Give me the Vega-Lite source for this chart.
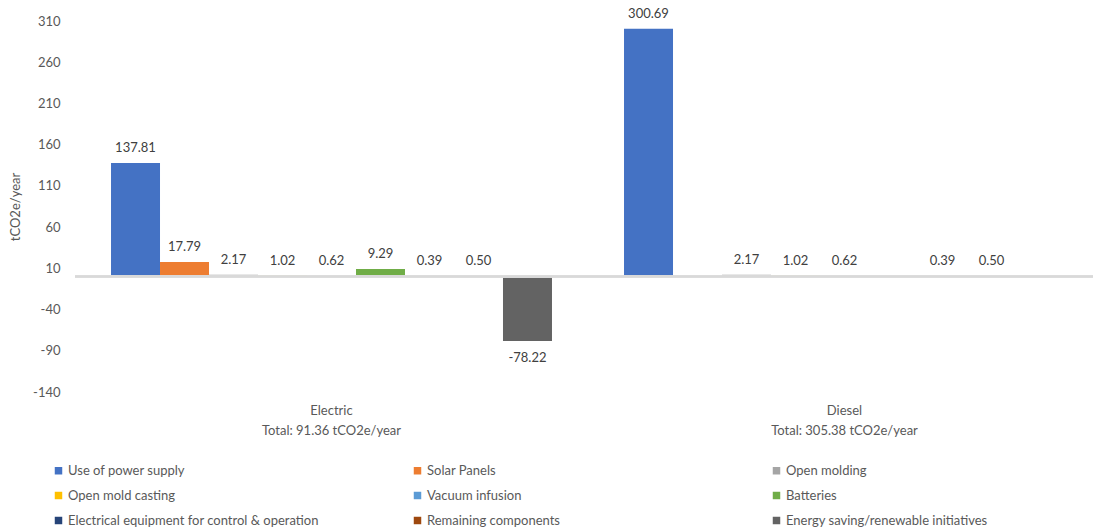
{
  "$schema": "https://vega.github.io/schema/vega-lite/v6.json",
  "autosize": "none",
  "width": 1018,
  "height": 371,
  "padding": {"left": 75, "top": 21, "right": 0, "bottom": 138},
  "background": "white",
  "config": {
    "view": {"stroke": null},
    "font": "Lato",
    "text": {"font": "Lato"},
    "locale": {
      "number": {"decimal": ".", "thousands": ",", "grouping": [3], "currency": ["$", ""], "minus": "-"}
    }
  },
  "data": {
    "values": [
      {"group": "Electric", "category": "Use of power supply", "value": 137.81},
      {"group": "Electric", "category": "Solar Panels", "value": 17.79},
      {"group": "Electric", "category": "Open molding", "value": 2.17},
      {"group": "Electric", "category": "Open mold casting", "value": 1.02},
      {"group": "Electric", "category": "Vacuum infusion", "value": 0.62},
      {"group": "Electric", "category": "Batteries", "value": 9.29},
      {"group": "Electric", "category": "Electrical equipment for control & operation", "value": 0.39},
      {"group": "Electric", "category": "Remaining components", "value": 0.50},
      {"group": "Electric", "category": "Energy saving/renewable initiatives", "value": -78.22},
      {"group": "Diesel", "category": "Use of power supply", "value": 300.69},
      {"group": "Diesel", "category": "Open molding", "value": 2.17},
      {"group": "Diesel", "category": "Open mold casting", "value": 1.02},
      {"group": "Diesel", "category": "Vacuum infusion", "value": 0.62},
      {"group": "Diesel", "category": "Electrical equipment for control & operation", "value": 0.39},
      {"group": "Diesel", "category": "Remaining components", "value": 0.50}
    ]
  },
  "encoding": {
    "x": {
      "field": "group",
      "type": "nominal",
      "sort": ["Electric", "Diesel"],
      "scale": {"range": [0, 1026], "paddingInner": 0, "paddingOuter": 0},
      "axis": {
        "title": null,
        "domain": false,
        "ticks": false,
        "labelAngle": 0,
        "labelPadding": 12,
        "labelFontSize": 13,
        "labelColor": "#595959",
        "labelLineHeight": 20,
        "labelExpr": "datum.value == 'Electric' ? ['Electric', 'Total: 91.36 tCO2e/year'] : ['Diesel', 'Total: 305.38 tCO2e/year']"
      }
    },
    "xOffset": {
      "field": "category",
      "type": "nominal",
      "sort": [
        "Use of power supply", "Solar Panels", "Open molding",
        "Open mold casting", "Vacuum infusion", "Batteries",
        "Electrical equipment for control & operation", "Remaining components",
        "Energy saving/renewable initiatives"
      ],
      "scale": {
        "domain": [
          "Use of power supply", "Solar Panels", "Open molding",
          "Open mold casting", "Vacuum infusion", "Batteries",
          "Electrical equipment for control & operation", "Remaining components",
          "Energy saving/renewable initiatives"
        ],
        "paddingInner": 0,
        "paddingOuter": 0.735
      }
    },
    "y": {
      "field": "value",
      "type": "quantitative",
      "scale": {"domain": [-140, 310], "nice": false, "zero": false},
      "axis": {
        "title": "tCO2e/year",
        "titleFontSize": 13,
        "titleFontWeight": "normal",
        "titleColor": "#595959",
        "titleX": -60,
        "titleBaseline": "middle",
        "values": [-140, -90, -40, 10, 60, 110, 160, 210, 260, 310],
        "domain": false,
        "ticks": false,
        "grid": false,
        "labelPadding": 15,
        "labelFontSize": 13,
        "labelColor": "#595959"
      }
    }
  },
  "layer": [
    {
      "mark": {"type": "bar", "width": {"band": 1}},
      "encoding": {
        "color": {
          "field": "category",
          "type": "nominal",
          "scale": {
            "domain": [
              "Use of power supply", "Solar Panels", "Open molding",
              "Open mold casting", "Vacuum infusion", "Batteries",
              "Electrical equipment for control & operation", "Remaining components",
              "Energy saving/renewable initiatives"
            ],
            "range": ["#4472C4", "#ED7D31", "#A5A5A5", "#FFC000", "#5B9BD5", "#70AD47", "#264478", "#9E480E", "#636363"]
          },
          "legend": {
            "title": null,
            "orient": "none",
            "legendX": -23,
            "legendY": 443,
            "direction": "horizontal",
            "columns": 3,
            "gridAlign": "all",
            "columnPadding": 92,
            "rowPadding": 11,
            "symbolType": "square",
            "symbolSize": 56,
            "symbolStrokeWidth": 0,
            "symbolOffset": 0,
            "labelOffset": 3,
            "labelFontSize": 13,
            "labelColor": "#595959",
            "labelLimit": 400
          }
        }
      }
    },
    {
      "mark": {"type": "rule", "color": "#D9D9D9", "strokeWidth": 1.5},
      "encoding": {
        "x": null,
        "xOffset": null,
        "y": {"datum": 0, "type": "quantitative"}
      }
    },
    {
      "transform": [{"filter": "datum.value >= 0"}],
      "mark": {"type": "text", "baseline": "middle", "dy": -15, "fontSize": 13, "color": "#404040"},
      "encoding": {"text": {"field": "value", "type": "quantitative", "format": ".2f"}}
    },
    {
      "transform": [{"filter": "datum.value < 0"}],
      "mark": {"type": "text", "baseline": "middle", "dy": 17, "fontSize": 13, "color": "#404040"},
      "encoding": {"text": {"field": "value", "type": "quantitative", "format": ".2f"}}
    }
  ]
}
